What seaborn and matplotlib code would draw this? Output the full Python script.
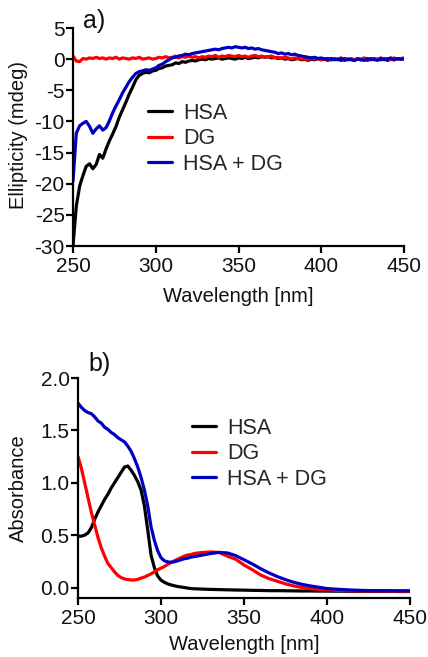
import numpy as np
import pandas as pd
import matplotlib
matplotlib.use("Agg")
import matplotlib.pyplot as plt
import seaborn as sns

# ---------------- CD spectra (panel a), 2 nm sampling ----------------
cd_wavelength = np.arange(250, 451, 2)

cd_hsa = [
    -29.9, -23.6, -20.4, -18.7, -17.2, -16.8, -17.6, -16.9, -15.3, -15.9,
    -14.4, -13.1, -12.0, -10.8, -9.3, -8.1, -6.9, -5.6, -4.5, -3.3,
    -2.6, -2.3, -2.1, -2.2, -1.9, -1.8, -1.5, -1.4, -1.1, -1.0,
    -0.9, -0.6, -0.7, -0.4, -0.5, -0.3, -0.2, -0.3, -0.1, 0.0,
    -0.1, 0.1, 0.0, 0.1, 0.2, 0.0, 0.1, 0.2, 0.1, 0.0,
    0.2, 0.1, 0.3, 0.1, 0.2, 0.3, 0.2, 0.4, 0.3, 0.4,
    0.2, 0.3, 0.1, 0.2, 0.0, 0.1, -0.1, 0.0, 0.1, -0.1,
    0.0, -0.2, 0.0, -0.1, 0.1, -0.1, 0.0, -0.2, 0.1, -0.1,
    0.0, -0.2, 0.1, -0.1, 0.0, -0.2, 0.1, -0.1, 0.0, -0.2,
    0.1, -0.1, 0.0, -0.1, 0.1, -0.2, 0.0, -0.1, 0.1, 0.0,
    0.1,
]

cd_dg = [
    0.5, -0.3, -0.4, 0.1, 0.0, 0.2, 0.1, 0.3, 0.1, 0.2,
    0.0, 0.2, 0.1, 0.3, 0.0, 0.2, 0.1, 0.0, 0.2, 0.1,
    0.3, 0.0, 0.1, 0.2, 0.0, 0.1, 0.3, 0.2, 0.4, 0.2,
    0.3, 0.5, 0.2, 0.4, 0.3, 0.5, 0.3, 0.4, 0.2, 0.4,
    0.3, 0.5, 0.4, 0.6, 0.3, 0.5, 0.4, 0.6, 0.5, 0.4,
    0.6, 0.4, 0.5, 0.3, 0.5, 0.6, 0.4, 0.5, 0.3, 0.4,
    0.5, 0.2, 0.3, 0.1, 0.3, 0.2, 0.0, 0.2, 0.1, 0.0,
    0.1, -0.1, 0.2, 0.0, 0.1, -0.1, 0.1, 0.0, -0.1, 0.1,
    0.0, 0.2, -0.1, 0.0, 0.1, -0.1, 0.1, 0.0, 0.2, -0.1,
    0.0, 0.1, -0.1, 0.2, 0.0, 0.1, -0.1, 0.2, 0.0, 0.1,
    0.2,
]

cd_hsa_dg = [
    -19.6, -11.9, -10.7, -10.3, -10.0, -10.8, -11.9, -11.2, -10.7, -11.4,
    -11.0, -9.9, -8.6, -7.5, -6.5, -5.4, -4.5, -3.6, -2.9, -2.3,
    -2.0, -1.9, -1.7, -1.8, -1.6, -1.4, -1.0, -0.8, -0.4, -0.1,
    0.2, 0.3, 0.5, 0.6, 0.8, 0.7, 0.9, 1.0, 1.1, 1.2,
    1.3, 1.4, 1.5, 1.6, 1.5, 1.7, 1.8, 1.9, 1.8, 2.0,
    1.9, 1.8, 1.9, 1.7, 1.8, 1.6, 1.7, 1.5, 1.4, 1.3,
    1.2, 1.1, 0.9, 1.0, 0.8, 0.9, 0.7, 0.8, 0.6, 0.5,
    0.4, 0.3, 0.2, 0.3, 0.1, 0.2, 0.0, 0.1, -0.1, 0.0,
    -0.1, 0.1, -0.2, 0.0, -0.1, -0.2, 0.0, -0.1, -0.2, 0.1,
    -0.1, 0.0, -0.2, 0.1, -0.1, 0.0, 0.2, -0.1, 0.1, 0.0,
    0.0,
]

# ---------------- UV-Vis absorbance (panel b) ----------------
abs_wavelength = np.concatenate([np.arange(250, 321, 2), np.arange(325, 451, 5)])

abs_hsa = [
    0.49, 0.49, 0.50, 0.52, 0.57, 0.65, 0.72, 0.78, 0.84, 0.89,
    0.95, 1.00, 1.05, 1.10, 1.15, 1.16, 1.12, 1.07, 1.01, 0.93,
    0.78, 0.55, 0.31, 0.19, 0.11, 0.07, 0.05, 0.035, 0.025, 0.017,
    0.01, 0.005, 0.0, -0.005, -0.01, -0.012,
    -0.015, -0.018, -0.02, -0.022, -0.024, -0.025, -0.027, -0.028, -0.03, -0.03,
    -0.031, -0.032, -0.033, -0.033, -0.034, -0.034, -0.035, -0.035,
    -0.036, -0.036, -0.036, -0.037, -0.037, -0.037, -0.038, -0.038,
]

abs_dg = [
    1.25, 1.14, 1.00, 0.86, 0.72, 0.60, 0.48, 0.38, 0.30, 0.23,
    0.19, 0.15, 0.115, 0.095, 0.082, 0.076, 0.072, 0.072, 0.078, 0.09,
    0.10, 0.115, 0.13, 0.15, 0.17, 0.185, 0.20, 0.22, 0.24, 0.255,
    0.27, 0.285, 0.30, 0.31, 0.315, 0.325,
    0.335, 0.34, 0.335, 0.30, 0.27, 0.215, 0.17, 0.12, 0.085, 0.06,
    0.035, 0.015, 0.0, -0.01, -0.017, -0.022, -0.026, -0.029,
    -0.031, -0.032, -0.033, -0.034, -0.035, -0.035, -0.035, -0.035,
]

abs_hsa_dg = [
    1.76, 1.72, 1.69, 1.67, 1.66, 1.63, 1.59, 1.57, 1.53, 1.51,
    1.48, 1.46, 1.43, 1.41, 1.39, 1.35, 1.30, 1.23, 1.15, 1.05,
    0.93, 0.78, 0.58, 0.45, 0.35, 0.285, 0.255, 0.245, 0.24, 0.245,
    0.255, 0.265, 0.275, 0.28, 0.29, 0.295,
    0.31, 0.325, 0.335, 0.33, 0.305, 0.265, 0.225, 0.18, 0.14, 0.105,
    0.075, 0.05, 0.03, 0.015, 0.003, -0.01, -0.015, -0.02,
    -0.024, -0.027, -0.029, -0.03, -0.03, -0.031, -0.031, -0.031,
]

series_names = ["HSA", "DG", "HSA + DG"]
series_colors = ["#000000", "#ff0000", "#0000c0"]

# ---------------- styling ----------------
sns.set_theme(style="ticks")
plt.rcParams["font.family"] = ["Liberation Sans", "DejaVu Sans"]
plt.rcParams["axes.unicode_minus"] = False
TICK_FS = 15
LABEL_FS = 14.5
LEGEND_FS = 15.5
INK = "#111111"

fig = plt.figure(figsize=(4.28, 6.57), dpi=100)
W, H = 428, 657


def px_axes(left, top, right, bottom):
    return fig.add_axes([left / W, 1 - bottom / H, (right - left) / W, (bottom - top) / H])


ax_a = px_axes(73, 28, 404, 246)
ax_b = px_axes(78, 378, 410, 598)

cd_df = pd.DataFrame({"wl": cd_wavelength, "HSA": cd_hsa, "DG": cd_dg, "HSA + DG": cd_hsa_dg})
abs_df = pd.DataFrame({"wl": abs_wavelength, "HSA": abs_hsa, "DG": abs_dg, "HSA + DG": abs_hsa_dg})

for name, color in zip(series_names, series_colors):
    sns.lineplot(data=cd_df, x="wl", y=name, ax=ax_a, color=color, lw=2.3, label=name)
    sns.lineplot(data=abs_df, x="wl", y=name, ax=ax_b, color=color, lw=2.3, label=name)

ax_a.set_xlim(250, 450)
ax_a.set_ylim(-30, 5)
ax_a.set_yticks(np.arange(-30, 6, 5))
ax_b.set_xlim(250, 450)
ax_b.set_ylim(-0.1, 2.0)
ax_b.set_yticks([0.0, 0.5, 1.0, 1.5, 2.0])
ax_b.set_yticklabels(["0.0", "0.5", "1.0", "1.5", "2.0"])

for ax in (ax_a, ax_b):
    ax.set_xticks([250, 300, 350, 400, 450])
    sns.despine(ax=ax)
    for side in ("left", "bottom"):
        ax.spines[side].set_linewidth(1.6)
        ax.spines[side].set_color("black")
    ax.tick_params(axis="both", direction="out", length=5, width=1.6, color="black",
                   labelsize=TICK_FS, labelcolor=INK)
    ax.tick_params(axis="x", pad=3)
    ax.tick_params(axis="y", pad=1)
    ax.set_xlabel("Wavelength [nm]", fontsize=LABEL_FS, va="center", color=INK)

ax_a.set_ylabel("Ellipticity (mdeg)", fontsize=LABEL_FS, va="center", color=INK)
ax_a.yaxis.set_label_coords((19 - 73) / 331, 0.51)
ax_a.xaxis.set_label_coords(0.5, (246 - 296) / 218)
ax_b.set_ylabel("Absorbance", fontsize=LABEL_FS, va="center", color=INK)
ax_b.yaxis.set_label_coords((18 - 78) / 332, 0.5)
ax_b.xaxis.set_label_coords(0.5, (598 - 645) / 220)

legend_kw = dict(frameon=False, fontsize=LEGEND_FS, loc="upper left", borderpad=0, borderaxespad=0,
                 handlelength=1.12, handletextpad=0.5, labelspacing=0.2,
                 bbox_transform=fig.transFigure)
ax_a.legend(bbox_to_anchor=(148 / W, 1 - 103 / H), **legend_kw)
ax_b.legend(bbox_to_anchor=(192 / W, 1 - 418 / H), **legend_kw)

fig.text(83 / W, 1 - 21 / H, "a)", fontsize=18, ha="left", va="center", color=INK)
fig.text(88 / W, 1 - 364 / H, "b)", fontsize=18, ha="left", va="center", color=INK)

fig.savefig("out.png", dpi=100)
